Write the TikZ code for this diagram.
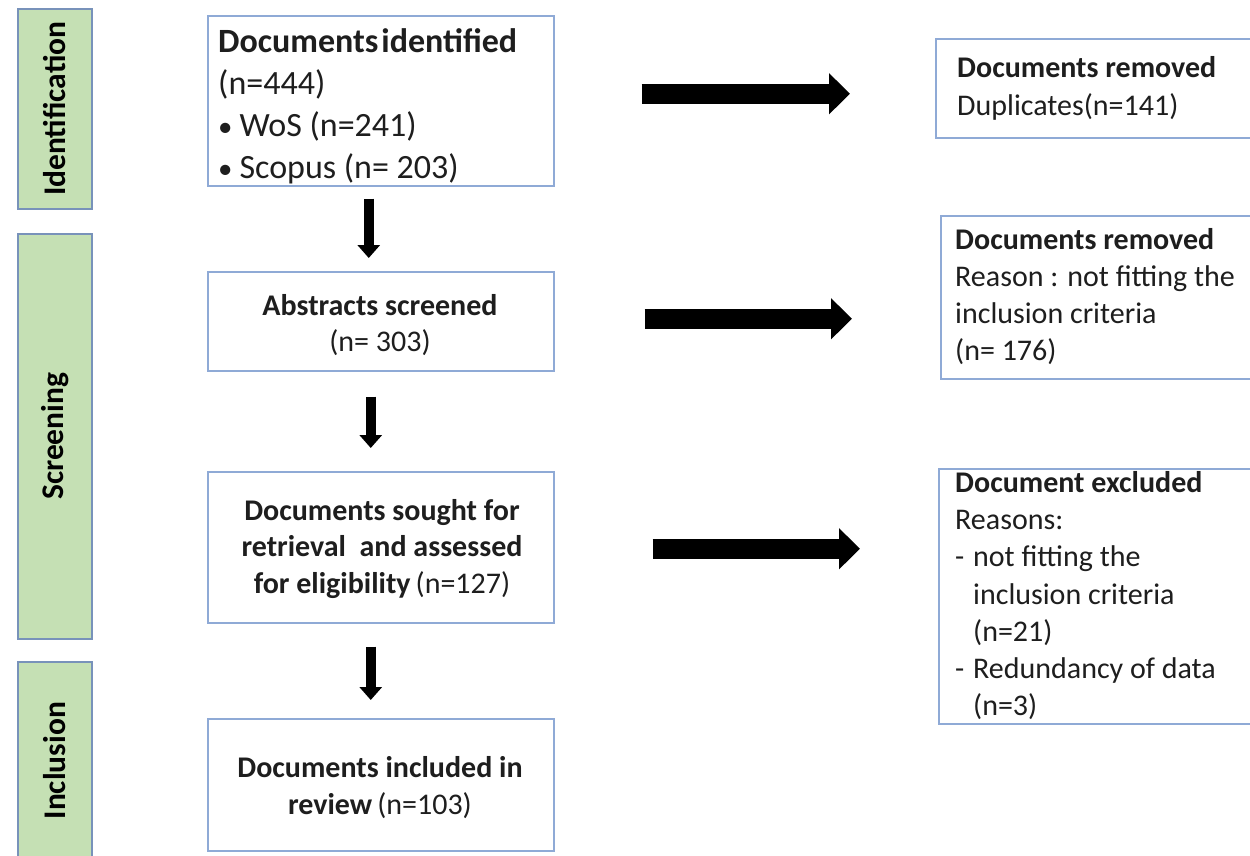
\documentclass[tikz,border=0pt]{standalone}
\usepackage{fontspec}
\setmainfont{Carlito}
\usetikzlibrary{arrows.meta}
\definecolor{boxblue}{RGB}{143,170,214}
\definecolor{barblue}{RGB}{120,146,186}
\definecolor{bargreen}{RGB}{197,224,180}
\definecolor{txtgray}{RGB}{30,30,30}
\begin{document}
\begin{tikzpicture}[x=1pt,y=-1pt,
  box/.style={draw=boxblue, line width=1.5pt, fill=white, inner sep=0pt, anchor=north west},
  bar/.style={draw=barblue, line width=1.5pt, fill=bargreen, inner sep=0pt, anchor=north west},
  bartext/.style={rotate=90, font=\fontsize{31.5}{36}\selectfont\bfseries, inner sep=0pt},
  bigtext/.style={font=\fontsize{34}{42}\selectfont, text=txtgray, inner sep=0pt, align=left, anchor=north west},
  ctext/.style={font=\fontsize{30}{36.5}\selectfont, text=txtgray, inner sep=0pt, align=center, anchor=north},
  rtext/.style={font=\fontsize{30}{#1}\selectfont, text=txtgray, inner sep=0pt, align=left, anchor=north west},
  fatarrow/.style={line width=20pt, -{Triangle[length=21pt,width=40pt]}},
  thinarrow/.style={line width=10pt, -{Triangle[length=13pt,width=22pt]}}]
\useasboundingbox (0,0) rectangle (1250,855);
\clip (0,0) rectangle (1250,855);
\fill[white] (0,0) rectangle (1250,855);

% phase bars
\node[bar, minimum width=74pt, minimum height=200pt] (bar1) at (17,8) {};
\node[bar, minimum width=74pt, minimum height=405pt] (bar2) at (17,233) {};
\node[bar, minimum width=74pt, minimum height=215pt] (bar3) at (17,661) {};
\node[bartext] (l1) at (bar1.center) {Identification};
\node[bartext] (l2) at (bar2.center) {Screening};
\node[bartext] (l3) at ([yshift=8.5pt]bar3.center) {Inclusion};

% main boxes
\node[box, minimum width=346pt, minimum height=170pt] (b1) at (207,15) {};
\node[box, minimum width=346pt, minimum height=99pt] (b2) at (207,271) {};
\node[box, minimum width=346pt, minimum height=151pt] (b3) at (207,471) {};
\node[box, minimum width=346pt, minimum height=132pt] (b4) at (207,718) {};

% right boxes
\node[box, minimum width=330pt, minimum height=99pt] (r1) at (935,38) {};
\node[box, minimum width=330pt, minimum height=163pt] (r2) at (940,215) {};
\node[box, minimum width=330pt, minimum height=255pt] (r3) at (938,468) {};

% texts
\node[bigtext] (t1) at (218,22.6) {\strut\textbf{Documents\hspace{3pt}identified}\\(n=444)\\\scalebox{0.85}{\textbullet}\hspace{7pt}WoS (n=241)\\\scalebox{0.85}{\textbullet}\hspace{7pt}Scopus (n= 203)};
\node[ctext] (t2) at (380,289.5) {\strut\textbf{Abstracts screened}\\(n= 303)};
\node[ctext] (t3) at (382,494.5) {\strut\textbf{Documents sought for}\\\textbf{retrieval\ \ and assessed}\\\textbf{for eligibility}\,(n=127)};
\node[ctext] (t4) at (380,752) {\strut\textbf{Documents included in}\\\textbf{review}\,(n=103)};
\node[rtext=38] (s1) at (957,50.4) {\strut\textbf{Documents removed}\\Duplicates(n=141)};
\node[rtext=37] (s2) at (955,223) {\strut\textbf{Documents removed}\\Reason : not fitting the\\inclusion criteria\\(n= 176)};
\node[rtext=37.2] (s3) at (955,466.3) {\strut\textbf{Document excluded}\\Reasons:\\\makebox[18pt][l]{-}not fitting the\\\hspace*{18pt}inclusion criteria\\\hspace*{18pt}(n=21)\\\makebox[18pt][l]{-}Redundancy of data\\\hspace*{18pt}(n=3)};

% horizontal arrows
\path ([yshift=7pt]b1.east) coordinate (a1s);
\path ([yshift=2.5pt]b2.east) coordinate (a2s);
\path ([yshift=-1.5pt]b3.east) coordinate (a3s);
\draw[fatarrow, shorten <=87pt, shorten >=85pt] (a1s) -- (a1s -| r1.west);
\draw[fatarrow, shorten <=90pt, shorten >=88pt] (a2s) -- (a2s -| r2.west);
\draw[fatarrow, shorten <=98pt, shorten >=78pt] (a3s) -- (a3s -| r3.west);

% vertical arrows
\path ([xshift=-12pt]b1.south) coordinate (d1s);
\path ([xshift=-10pt]b2.south) coordinate (d2s);
\path ([xshift=-10pt]b3.south) coordinate (d3s);
\draw[thinarrow, shorten <=12pt, shorten >=13pt] (d1s) -- (d1s |- b2.north);
\draw[thinarrow, shorten <=25pt, shorten >=23pt] (d2s) -- (d2s |- b3.north);
\draw[thinarrow, shorten <=23pt, shorten >=18pt] (d3s) -- (d3s |- b4.north);
\end{tikzpicture}
\end{document}
